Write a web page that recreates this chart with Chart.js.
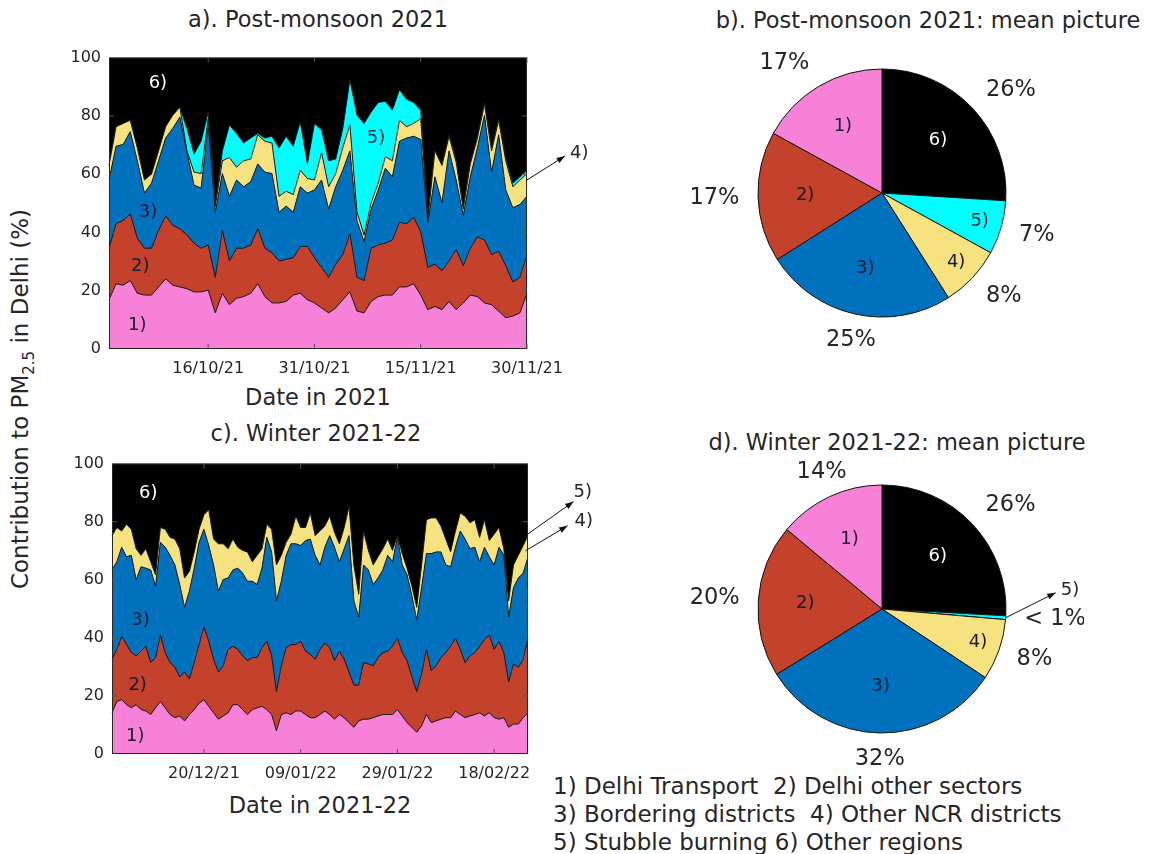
<!DOCTYPE html>
<html>
<head>
<meta charset="utf-8">
<script src="https://cdn.jsdelivr.net/npm/chart.js@4.4.0/dist/chart.umd.min.js"></script>
<style>
  body { margin: 0; background: #fff; font-family: "DejaVu Sans", sans-serif; color: #262626; }
  #page { position: relative; width: 1149px; height: 854px; overflow: hidden; }
  canvas { position: absolute; }
  .t { position: absolute; font-size: 22.5px; white-space: nowrap; transform: translate(-50%, -50%); }
  #ylab { left: 22px; top: 399px; font-size: 23px; transform: translate(-50%, -50%) rotate(-90deg); }
  #ylab sub { font-size: 15px; vertical-align: -6px; }
  #legend { position: absolute; left: 553px; top: 772px; font-size: 23px; line-height: 28px; white-space: pre; }
</style>
</head>
<body>
<div id="page">
  <div class="t" style="left:318px;top:19px">a). Post-monsoon 2021</div>
  <div class="t" style="left:928px;top:20px">b). Post-monsoon 2021: mean picture</div>
  <div class="t" style="left:316px;top:433px">c). Winter 2021-22</div>
  <div class="t" style="left:897px;top:442px">d). Winter 2021-22: mean picture</div>
  <div class="t" style="left:318px;top:397px">Date in 2021</div>
  <div class="t" style="left:320px;top:805px">Date in 2021-22</div>
  <div class="t" id="ylab">Contribution to PM<sub>2.5</sub> in Delhi (%)</div>
  <div id="legend">1) Delhi Transport  2) Delhi other sectors
3) Bordering districts  4) Other NCR districts
5) Stubble burning 6) Other regions</div>

  <canvas id="chartA" width="565" height="340" style="left:40px;top:40px"></canvas>
  <canvas id="chartC" width="565" height="339" style="left:40px;top:446px"></canvas>
  <canvas id="pieB" width="404" height="326" style="left:680px;top:30px"></canvas>
  <canvas id="pieD" width="404" height="326" style="left:680px;top:446px"></canvas>
</div>

<script>
// upper edge of each stacked band (cumulative %)
// post-monsoon: 02/10/21 .. 30/11/21
var postTop1 = [16.9, 22.4, 21.9, 23.5, 19.1, 18.5, 18.5, 21.3, 24.1, 21.9, 21.3, 20.7, 19.6, 19.6, 20.2, 12.4, 19.1, 15.2, 17.4, 18, 19.1,
    22.4, 18, 15.8, 15.8, 16.3, 18.5, 19.1, 16.9, 15.8,
    14.1, 12.4, 14.1, 16.9, 19.6, 13, 12.4, 16.3, 18, 18.5,
    18.5, 21.3, 21.3, 22.4, 18.5, 13.5, 14.6, 13.5, 16.3, 13.5, 15.8, 18.5, 18, 15.8, 15.2, 13, 10.7, 11.3, 12.4, 19.1];
var postTop2 = [34.6, 43, 44.1, 46.3, 38, 34.6, 34.6, 40.7, 45.7, 42.4, 41.3, 39.1, 36.3, 34.6, 35.7, 24.6, 40.7, 30.2, 34.6, 34.6, 35.7,
    41.3, 34.6, 33, 30.2, 30.8, 31.3, 35.2, 35.2, 31.3,
    28, 24.6, 29.1, 32.4, 39.6, 24.6, 23.5, 34.6, 35.7, 36.3,
    37.4, 43.5, 43, 45.2, 40.2, 28, 29.1, 26.9, 30.2, 34.1, 28.6, 34.6, 38.5, 37.4, 32.4, 33.5, 28.6, 23, 24.6, 32.4];
var postTop3 = [58, 69.6, 70.2, 74.6, 64.6, 53.5, 56.9, 64.6, 72.4, 75.7, 79.6, 67.4, 56.3, 55.2, 76.9, 46.9, 60.2, 52.4, 58, 55.7, 57.4,
    63.5, 60.7, 60.2, 46.9, 49.1, 46.9, 55.7, 53.5, 54.6,
    58, 48, 55.7, 61.3, 68, 44, 36.9, 48, 54.6, 62,
    59.1, 71.3, 72.4, 73, 71.9, 43.5, 59.1, 50.2, 68, 58, 45.8, 59.1, 69.1, 80.2, 60.7, 73.5, 54.6, 48.5, 49.6, 52.4];
var postTop4 = [63, 76.3, 77.4, 78.5, 69, 58, 60, 68, 76.3, 80.2, 83, 68, 60.7, 60.2, 79, 49, 64.6, 65.7, 62.4, 64.6, 65.2,
    73.5, 71.3, 70.7, 52.4, 54.1, 53, 61.3, 58.5, 58,
    67.4, 55.7, 60.2, 69.1, 76.9, 47, 39.1, 50.2, 56.9, 66,
    64.6, 78.5, 76.3, 77.4, 79, 44.6, 68, 63, 73, 64.1, 48, 63.5, 72.4, 84, 68, 78.5, 64.6, 55.7, 58, 60.2];
var postTop5 = [63, 76.3, 77.4, 78.5, 69, 58, 60, 68, 76.3, 80.2, 83, 75.7, 66.9, 71.3, 81.3, 49.5, 68, 76.9, 74, 70.7, 72.4,
    74, 72.4, 73, 69, 73, 69.6, 78, 63.5, 77.4,
    75.2, 64.6, 65.2, 75.7, 92.4, 80.2, 77.4, 81.3, 84.6, 85,
    82, 89, 85.7, 84.6, 81.9, 44.6, 68, 63, 73.5, 64.6, 49.1, 63.5, 72.4, 84.6, 69, 79, 65.7, 56.9, 59.1, 61.3];

// winter: 01/12/21 .. 24/02/22 (stubble band is below 1 %, not visible)
var winterTop1 = [14.2, 18.1, 18.7, 17, 15.9, 17, 15.3, 14.8, 13.6, 15.9, 18.1, 15.9, 13.6, 12.5, 13.1, 11.4, 13.6, 15.3, 17.5, 18.7, 16.4, 14.2, 12, 13.1, 14.2, 17, 17, 15.3, 13.6,
    15.3, 15.9, 16.4, 15.3, 13.6, 8, 13.6, 14.2, 13.6, 14.8, 14.8, 13.6, 12.5, 12.5, 13.6, 14.8, 13.6, 12, 13.6, 12.5, 10.8, 9.2, 11.4, 12, 12, 12.5, 13.1, 13.6, 13.6,
    13.6, 15.3, 13.1, 10.8, 9.2, 7.5, 9.7, 13.6, 10.8, 11.4, 12, 12.5, 12.5, 14.8, 13.6, 12.5, 13.1, 13.6, 14.2, 13.1, 14.2, 12.5, 12, 12.5, 9.2, 10.3, 10.3, 12.5, 14.2];
var winterTop2 = [32.6, 36, 40.5, 37.7, 34.9, 33.8, 35.4, 37.1, 31.5, 33.2, 41, 34.9, 31.5, 29.9, 26.5, 28.2, 25.9, 31.5, 37.7, 43.8, 38.8, 32.6, 28.2, 30.4, 36, 37.1, 36, 33.8, 32.1,
    33.2, 33.2, 36.6, 38.8, 33.8, 21.5, 30.4, 36.6, 37.7, 37.7, 38.8, 35.4, 34.3, 32.6, 36, 38.2, 36.6, 32.1, 35.4, 32.6, 28.2, 23.7, 23.7, 31.5, 31, 30.4, 33.2, 34.9, 35.4,
    37.1, 39.9, 34.9, 32.1, 26.5, 21.5, 27.6, 36, 28.7, 30.4, 33.2, 34.9, 37.1, 39.9, 36, 31.5, 33.8, 34.9, 37.1, 39.4, 41, 36, 38.8, 34.9, 24.8, 31, 29.9, 32.6, 39.9];
var winterTop3 = [63.4, 66.2, 71.2, 67.9, 68.4, 60, 64.5, 64, 63.4, 57.8, 72.9, 71.2, 68.4, 65.1, 58.4, 50.5, 56.1, 64, 72.9, 77.4, 71.8, 65.1, 56.1, 60.1, 60.6, 63.4, 64, 62.3, 59.5,
    59.5, 58.4, 64, 74.6, 69.6, 52.8, 59.5, 68.4, 72.4, 72.4, 71.8, 73.5, 74, 68.4, 65.1, 71.2, 75.2, 71.2, 66.2, 70.7, 75.2, 52.8, 47.2, 65.1, 63.4, 58.4, 60.6, 63.4, 68.4,
    66.2, 74.6, 65.1, 61.7, 54.5, 46.1, 57.3, 69, 69, 69.6, 69.6, 65.1, 64.5, 71.2, 76.8, 74, 70.7, 71.2, 66.2, 71.2, 67.9, 65.1, 71.2, 68.4, 47.2, 57.3, 60.6, 62.3, 67.9];
var winterTop4 = [75.2, 78, 76.8, 79.1, 77.4, 70.7, 68.4, 70.7, 66.2, 61.7, 78, 77.4, 74.6, 74, 70.7, 60.6, 62.9, 69.6, 77.4, 82.4, 84.1, 74, 72.4, 72.4, 70.7, 74, 71.2, 70.1, 69.6,
    66.2, 68.4, 70.7, 79.1, 77.4, 65.1, 68.4, 72.9, 75.7, 81.9, 78, 78, 83, 75.2, 76.8, 78.5, 81.9, 76.3, 72.4, 78, 85.2, 65.1, 55, 76.8, 70.1, 65.1, 67.9, 70.7, 74,
    70.1, 75.2, 69, 64, 57.8, 50.5, 65.1, 80.7, 81.3, 81.3, 78.5, 74, 69.6, 76.8, 83, 81.9, 79.6, 80.7, 74.6, 80.7, 73.5, 75.7, 78, 70.7, 52.8, 65.1, 68.4, 71.8, 75.2];

var postTicks = ['16/10/21', '31/10/21', '15/11/21', '30/11/21'];
var winterTicks = ['20/12/21', '09/01/22', '29/01/22', '18/02/22'];

// pie slices, clockwise from 12 o'clock: 6) 5) 4) 3) 2) 1)
var postMean = [26, 7, 8, 25, 17, 17];
var winterMean = [26, 0.5, 8, 32, 20, 14];
var postPct = ['26%', '7%', '8%', '25%', '17%', '17%'];
var winterPct = ['26%', '< 1%', '8%', '32%', '20%', '14%'];

var colPink = '#F781D6', colRed = '#C4412B', colBlue = '#0071BC',
    colYellow = '#F6E27F', colCyan = '#00FFFF', colBlack = '#000000';
var ink = '#262626', tagInk = '#1a1a2e';

Chart.defaults.font.family = '"DejaVu Sans", sans-serif';
Chart.defaults.color = ink;

function dayLabels(y, m, d, n) {
    var out = [];
    for (var i = 0; i < n; i++) {
        var t = new Date(Date.UTC(y, m - 1, d + i));
        var dd = String(t.getUTCDate()).padStart(2, '0');
        var mm = String(t.getUTCMonth() + 1).padStart(2, '0');
        out.push(dd + '/' + mm + '/' + String(t.getUTCFullYear()).slice(2));
    }
    return out;
}

function drawArrow(ctx, x0, y0, x1, y1) {
    var a = Math.atan2(y1 - y0, x1 - x0), h = 9;
    ctx.beginPath();
    ctx.moveTo(x0, y0);
    ctx.lineTo(x1, y1);
    ctx.stroke();
    ctx.beginPath();
    ctx.moveTo(x1, y1);
    ctx.lineTo(x1 - h * Math.cos(a - 0.35), y1 - h * Math.sin(a - 0.35));
    ctx.lineTo(x1 - h * Math.cos(a + 0.35), y1 - h * Math.sin(a + 0.35));
    ctx.closePath();
    ctx.fill();
}

// black "other regions" background, frame, inward ticks, band tags and arrows
var areaDecor = {
    id: 'areaDecor',
    beforeDraw: function (chart) {
        var a = chart.chartArea, ctx = chart.ctx;
        ctx.save();
        ctx.fillStyle = colBlack;
        ctx.fillRect(a.left, a.top, a.right - a.left, a.bottom - a.top);
        ctx.restore();
    },
    afterDatasetsDraw: function (chart, args, opts) {
        var a = chart.chartArea, ctx = chart.ctx;
        var xs = chart.scales.x, ys = chart.scales.y;
        ctx.save();
        ctx.strokeStyle = ink;
        ctx.lineWidth = 1;
        ctx.strokeRect(a.left + 0.5, a.top + 0.5, a.right - a.left - 1, a.bottom - a.top - 1);
        ctx.strokeStyle = '#555';
        opts.ticks.forEach(function (lab) {
            var x = xs.getPixelForValue(chart.data.labels.indexOf(lab));
            ctx.beginPath();
            ctx.moveTo(x, a.bottom); ctx.lineTo(x, a.bottom - 5);
            ctx.moveTo(x, a.top); ctx.lineTo(x, a.top + 5);
            ctx.stroke();
        });
        for (var v = 20; v < 100; v += 20) {
            var y = ys.getPixelForValue(v);
            ctx.beginPath();
            ctx.moveTo(a.left, y); ctx.lineTo(a.left + 5, y);
            ctx.moveTo(a.right, y); ctx.lineTo(a.right - 5, y);
            ctx.stroke();
        }
        ctx.font = '18px "DejaVu Sans"';
        ctx.textAlign = 'center';
        ctx.textBaseline = 'middle';
        opts.tags.forEach(function (t) {
            ctx.fillStyle = t.color;
            ctx.fillText(t.text, xs.getPixelForValue(t.i), ys.getPixelForValue(t.v));
        });
        ctx.strokeStyle = '#111';
        ctx.lineWidth = 1;
        opts.arrows.forEach(function (r) {
            var x0 = xs.getPixelForValue(r.i), y0 = ys.getPixelForValue(r.v);
            ctx.fillStyle = '#111';
            drawArrow(ctx, x0, y0, x0 + r.dx, y0 + r.dy);
            ctx.textAlign = 'left';
            ctx.fillStyle = ink;
            ctx.fillText(r.text, x0 + r.dx + r.tx, y0 + r.dy + r.ty);
        });
        ctx.restore();
    }
};

function band(data, color, fill) {
    return {
        data: data, fill: fill, backgroundColor: color,
        borderColor: '#1b1b1b', borderWidth: 1, pointRadius: 0, tension: 0
    };
}

function areaChart(id, labels, tops, colors, shown, yWidth, decor) {
    var sets = tops.map(function (d, i) { return band(d, colors[i], i === 0 ? 'origin' : '-1'); });
    return new Chart(document.getElementById(id), {
        type: 'line',
        data: { labels: labels, datasets: sets },
        options: {
            responsive: false,
            animation: false,
            layout: { padding: { left: 0, top: 10, right: decor.padRight, bottom: 0 } },
            plugins: { legend: { display: false }, tooltip: { enabled: false }, areaDecor: decor },
            scales: {
                x: {
                    grid: { display: false, drawTicks: false },
                    border: { display: false },
                    ticks: {
                        autoSkip: false, maxRotation: 0, padding: 10,
                        font: { size: 16 }, color: ink,
                        callback: function (v) {
                            var l = this.getLabelForValue(v);
                            return shown.indexOf(l) >= 0 ? l : null;
                        }
                    },
                    afterFit: function (s) { s.height = 31; }
                },
                y: {
                    min: 0, max: 100,
                    grid: { display: false, drawTicks: false },
                    border: { display: false },
                    ticks: { stepSize: 20, padding: 8, font: { size: 16 }, color: ink },
                    afterFit: function (s) { s.width = yWidth; }
                }
            }
        },
        plugins: [areaDecor]
    });
}

var postDays = dayLabels(2021, 10, 2, postTop1.length);
var winterDays = dayLabels(2021, 12, 1, winterTop1.length);

areaChart('chartA', postDays,
    [postTop1, postTop2, postTop3, postTop4, postTop5],
    [colPink, colRed, colBlue, colYellow, colCyan], postTicks, 69,
    {
        padRight: 78, ticks: postTicks,
        tags: [
            { text: '6)', i: 6.9, v: 91.3, color: '#ffffff' },
            { text: '5)', i: 37.7, v: 72.3, color: '#0b3a4a' },
            { text: '3)', i: 5.5, v: 47, color: tagInk },
            { text: '2)', i: 4.4, v: 28.3, color: tagInk },
            { text: '1)', i: 4, v: 8, color: tagInk }
        ],
        arrows: [{ text: '4)', i: 59, v: 58, dx: 38, dy: -24, tx: 5, ty: -3 }]
    });

areaChart('chartC', winterDays,
    [winterTop1, winterTop2, winterTop3, winterTop4],
    [colPink, colRed, colBlue, colYellow], winterTicks, 72,
    {
        padRight: 77, ticks: winterTicks,
        tags: [
            { text: '6)', i: 7.5, v: 89.6, color: '#ffffff' },
            { text: '3)', i: 5.9, v: 46, color: tagInk },
            { text: '2)', i: 5.3, v: 23.8, color: tagInk },
            { text: '1)', i: 4.8, v: 6, color: tagInk }
        ],
        arrows: [
            { text: '5)', i: 85.5, v: 75.2, dx: 48, dy: -34, tx: 0, ty: -9 },
            { text: '4)', i: 85.5, v: 70, dx: 42, dy: -25, tx: 7, ty: -4 }
        ]
    });

// slice tags, outer percentages and the optional pointer for a thin slice
var pieDecor = {
    id: 'pieDecor',
    afterDatasetsDraw: function (chart, args, opts) {
        var ctx = chart.ctx;
        var arcs = chart.getDatasetMeta(0).data;
        ctx.save();
        arcs.forEach(function (arc, i) {
            var p = arc.getProps(['x', 'y', 'startAngle', 'endAngle', 'outerRadius'], true);
            var mid = (p.startAngle + p.endAngle) / 2;
            var c = Math.cos(mid), s = Math.sin(mid), r = p.outerRadius;
            var frac = (p.endAngle - p.startAngle) / (2 * Math.PI);
            if (opts.tags[i]) {
                var k = frac < 0.1 ? 0.82 : 0.62;
                ctx.font = '18px "DejaVu Sans"';
                ctx.textAlign = 'center';
                ctx.textBaseline = 'middle';
                ctx.fillStyle = i === 0 ? '#ffffff' : tagInk;
                ctx.fillText(opts.tags[i], p.x + c * r * k, p.y + s * r * k);
            }
            ctx.font = '22.5px "DejaVu Sans"';
            ctx.textBaseline = 'middle';
            ctx.textAlign = c > 0.45 ? 'left' : (c < -0.45 ? 'right' : 'center');
            ctx.fillStyle = ink;
            ctx.fillText(opts.pct[i], p.x + c * r * 1.15, p.y + s * (r * 1.15 + 8));
            if (opts.pointer && opts.pointer.index === i) {
                var x0 = p.x + c * r, y0 = p.y + s * r;
                ctx.strokeStyle = '#111';
                ctx.fillStyle = '#111';
                ctx.lineWidth = 1;
                drawArrow(ctx, x0, y0, x0 + opts.pointer.dx, y0 + opts.pointer.dy);
                ctx.font = '18px "DejaVu Sans"';
                ctx.textAlign = 'left';
                ctx.fillStyle = ink;
                ctx.fillText(opts.pointer.text, x0 + opts.pointer.dx + 5, y0 + opts.pointer.dy - 2);
            }
        });
        ctx.restore();
    }
};

function pieChart(id, values, pct, tags, pointer) {
    return new Chart(document.getElementById(id), {
        type: 'pie',
        data: {
            labels: ['6)', '5)', '4)', '3)', '2)', '1)'],
            datasets: [{
                data: values,
                backgroundColor: [colBlack, colCyan, colYellow, colBlue, colRed, colPink],
                borderColor: '#111',
                borderWidth: 1,
                radius: 124
            }]
        },
        options: {
            responsive: false,
            animation: false,
            layout: { padding: 0 },
            plugins: {
                legend: { display: false },
                tooltip: { enabled: false },
                pieDecor: { pct: pct, tags: tags, pointer: pointer }
            }
        },
        plugins: [pieDecor]
    });
}

pieChart('pieB', postMean, postPct, ['6)', '5)', '4)', '3)', '2)', '1)'], null);
pieChart('pieD', winterMean, winterPct, ['6)', '', '4)', '3)', '2)', '1)'], { index: 1, dx: 50, dy: -25, text: '5)' });
</script>
</body>
</html>
